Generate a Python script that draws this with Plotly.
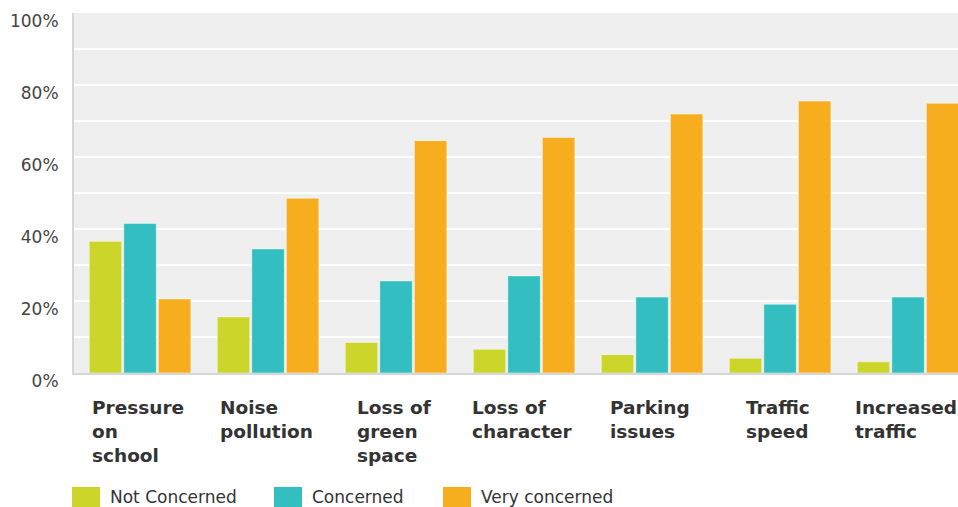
import plotly.graph_objects as go

categories = ["Pressure on school", "Noise pollution", "Loss of green space",
              "Loss of character", "Parking issues", "Traffic speed", "Increased traffic"]
category_labels = [["Pressure", "on", "school"], ["Noise", "pollution"], ["Loss of", "green", "space"],
                   ["Loss of", "character"], ["Parking", "issues"], ["Traffic", "speed"], ["Increased", "traffic"]]
series_names = ["Not Concerned", "Concerned", "Very concerned"]
not_concerned = [0.366, 0.156, 0.085, 0.066, 0.051, 0.041, 0.031]
concerned = [0.416, 0.345, 0.256, 0.270, 0.211, 0.191, 0.211]
very_concerned = [0.206, 0.486, 0.646, 0.655, 0.720, 0.756, 0.750]
colors = ["#ccd52a", "#33bec0", "#f6ae1f"]
y_tickvals = [0, 0.2, 0.4, 0.6, 0.8, 1.0]
y_ticktext = ["0%", "20%", "40%", "60%", "80%", "100%"]

x_idx = list(range(len(categories)))
fig = go.Figure()
for name, vals, col in zip(series_names, [not_concerned, concerned, very_concerned], colors):
    fig.add_trace(go.Bar(x=x_idx, y=vals, name=name, marker=dict(color=col, line=dict(color="rgba(255,255,255,0.45)", width=1)),
                         showlegend=False))

annotations = []
for i, lines in enumerate(category_labels):
    annotations.append(dict(x=i, xref="x", y=0, yref="paper", yanchor="top", xanchor="center",
                            xshift=-2, yshift=-22, align="left", showarrow=False,
                            text="<br>".join(lines),
                            font=dict(family="DejaVu Sans", size=18.5, color="#333333", weight="bold")))

# custom legend
legend_x = [72, 274, 443]
W, H = 958, 507
shapes = []
for lx, name, col in zip(legend_x, series_names, colors):
    shapes.append(dict(type="rect", xref="paper", yref="paper",
                       x0=(lx - 74) / (W - 74), x1=(lx + 28 - 74) / (W - 74),
                       y0=-(512 - 373) / 360, y1=-(487 - 373) / 360,
                       fillcolor=col, line=dict(width=0), layer="above"))
    annotations.append(dict(x=(lx + 36 - 74) / (W - 74), xref="paper", y=-(497 - 373) / 360, yref="paper",
                            xanchor="left", yanchor="middle", showarrow=False, text=name,
                            font=dict(family="DejaVu Sans", size=17, color="#333333")))

fig.update_layout(
    width=W, height=H,
    margin=dict(l=74, r=0, t=13, b=134),
    paper_bgcolor="white", plot_bgcolor="#efefef",
    barmode="group", bargap=0.19, bargroupgap=0.06,
    annotations=annotations, shapes=shapes,
    showlegend=False,
)
fig.update_xaxes(range=[-0.516, 6.39], showticklabels=False, showgrid=False, zeroline=False,
                 showline=True, linecolor="#d6d6d6", linewidth=2, ticks="")
fig.update_yaxes(range=[0, 1.001], tickvals=y_tickvals, ticktext=y_ticktext,
                 showgrid=True, gridcolor="white", gridwidth=2,
                 minor=dict(dtick=0.1, showgrid=True, gridcolor="white", gridwidth=2),
                 zeroline=False, showline=True, linecolor="#d6d6d6", linewidth=2,
                 ticklabelshift=8, ticklabelstandoff=10, ticklabeloverflow="allow",
                 tickfont=dict(family="DejaVu Sans", size=17, color="#444444"))

fig.write_html("out.html", config={"displayModeBar": False},
               post_script="document.body.style.margin='0px';")
